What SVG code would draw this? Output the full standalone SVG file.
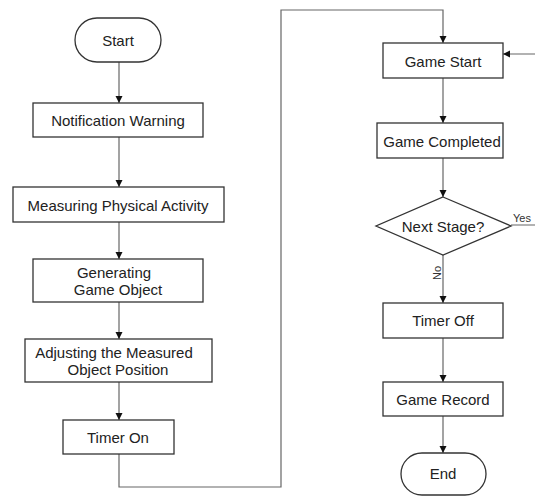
<svg xmlns="http://www.w3.org/2000/svg" width="535" height="496" viewBox="0 0 535 496">
<style>
.box{fill:#fff;stroke:#333;stroke-width:1.3}
.t{font-family:"Liberation Sans",Arial,sans-serif;font-size:15px;fill:#222;text-anchor:middle;dominant-baseline:central}
.lbl{font-family:"Liberation Sans",Arial,sans-serif;font-size:11px;fill:#333}
.c{fill:none;stroke:#666;stroke-width:1.2}
</style>
<defs>
<marker id="arr" markerUnits="userSpaceOnUse" markerWidth="8" markerHeight="8" viewBox="0 0 8 8" refX="7" refY="4" orient="auto">
<path d="M0,0.5 L7,4 L0,7.5 Z" fill="#111"/>
</marker>
</defs>
<rect width="535" height="496" fill="#fff"/>
<g id="connectors">
<path class="c" d="M119 62 V103" marker-end="url(#arr)"/>
<path class="c" d="M119 137 V187" marker-end="url(#arr)"/>
<path class="c" d="M119 222 V259" marker-end="url(#arr)"/>
<path class="c" d="M119 302 V339" marker-end="url(#arr)"/>
<path class="c" d="M119 382 V420" marker-end="url(#arr)"/>
<path class="c" d="M119 454 V487 H281 V10 H443 V43" marker-end="url(#arr)"/>
<path class="c" d="M443 78 V123" marker-end="url(#arr)"/>
<path class="c" d="M443 158 V197" marker-end="url(#arr)"/>
<path class="c" d="M443 255 V303" marker-end="url(#arr)"/>
<path class="c" d="M443 338 V382" marker-end="url(#arr)"/>
<path class="c" d="M443 416 V453" marker-end="url(#arr)"/>
<path class="c" d="M511 225 H545 V54 H503" marker-end="url(#arr)"/>
<text class="lbl" x="513" y="222">Yes</text>
<text class="lbl" transform="translate(441 273) rotate(-90)" text-anchor="middle">No</text>
</g>
<g id="start"><rect class="box" x="75" y="18" width="86" height="44" rx="22"/><text class="t" x="118" y="40">Start</text></g>
<g id="notification"><rect class="box" x="33" y="103" width="170" height="34"/><text class="t" x="118" y="120">Notification Warning</text></g>
<g id="measuring"><rect class="box" x="13" y="187" width="211" height="35"/><text class="t" x="118" y="205">Measuring Physical Activity</text></g>
<g id="generating"><rect class="box" x="33" y="259" width="170" height="43"/><text class="t" x="114" y="272">Generating</text><text class="t" x="118" y="289">Game Object</text></g>
<g id="adjusting"><rect class="box" x="25" y="339" width="187" height="43"/><text class="t" x="114" y="352">Adjusting the Measured</text><text class="t" x="118" y="369">Object Position</text></g>
<g id="timer-on"><rect class="box" x="63" y="420" width="111" height="34"/><text class="t" x="118" y="437">Timer On</text></g>
<g id="game-start"><rect class="box" x="383" y="43" width="120" height="35"/><text class="t" x="443" y="61">Game Start</text></g>
<g id="game-completed"><rect class="box" x="377" y="123" width="126" height="35"/><text class="t" x="442" y="141">Game Completed</text></g>
<g id="next-stage"><path class="box" d="M443 197 L511 226 L443 255 L376 226 Z"/><text class="t" x="443" y="226">Next Stage?</text></g>
<g id="timer-off"><rect class="box" x="383" y="303" width="120" height="35"/><text class="t" x="443" y="320">Timer Off</text></g>
<g id="game-record"><rect class="box" x="383" y="382" width="120" height="34"/><text class="t" x="443" y="399">Game Record</text></g>
<g id="end"><rect class="box" x="401" y="453" width="85" height="42" rx="21"/><text class="t" x="443" y="473">End</text></g>
</svg>
